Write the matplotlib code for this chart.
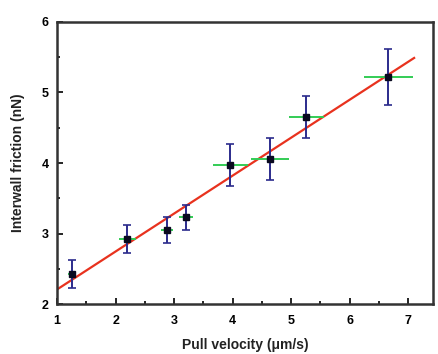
import numpy as np
import matplotlib.pyplot as plt
from matplotlib.ticker import MultipleLocator

# pull velocity (um/s) and interwall friction (nN)
velocity = [1.26, 2.20, 2.88, 3.20, 3.96, 4.64, 5.26, 6.66]
friction = [2.43, 2.92, 3.05, 3.23, 3.97, 4.06, 4.65, 5.22]
vel_err = [0.07, 0.15, 0.10, 0.12, 0.30, 0.32, 0.30, 0.42]
fric_err = [0.20, 0.20, 0.18, 0.18, 0.30, 0.30, 0.30, 0.40]

plt.rcParams['font.family'] = ['Liberation Sans', 'DejaVu Sans']

fig = plt.figure(figsize=(4.39, 3.54), dpi=100)
ax = fig.add_axes([0.130, 0.141, 0.856, 0.797])

# linear fit
k, b = np.polyfit(velocity, friction, 1)
xf = np.array([1.0, 7.1])
ax.plot(xf, k * xf + b, color='#e8321e', lw=1.6, zorder=2)

ax.errorbar(velocity, friction, xerr=vel_err, fmt='none', ecolor='#33cc55',
            elinewidth=1.4, capsize=0, zorder=3)
ax.errorbar(velocity, friction, yerr=fric_err, fmt='none', ecolor='#2b2b8c',
            elinewidth=1.4, capsize=3, capthick=1.2, zorder=4)
ax.plot(velocity, friction, 's', color='#0a0a20', ms=5, zorder=5)

ax.set_xlim(1, 7.42)
ax.set_ylim(2, 6)
ax.xaxis.set_major_locator(MultipleLocator(1))
ax.xaxis.set_minor_locator(MultipleLocator(0.5))
ax.yaxis.set_major_locator(MultipleLocator(1))
ax.yaxis.set_minor_locator(MultipleLocator(0.5))
ax.tick_params(which='both', direction='in', width=1.2, labelsize=9)
ax.tick_params(which='major', length=4)
ax.tick_params(which='minor', length=2.5)
ax.tick_params(axis='x', pad=8)
ax.tick_params(axis='y', pad=6)
for lab in ax.get_xticklabels() + ax.get_yticklabels():
    lab.set_fontweight('bold')
for sp in ax.spines.values():
    sp.set_linewidth(1.8)
    sp.set_color('#333333')

ax.set_xlabel('Pull velocity (\u03bcm/s)', fontsize=10, fontweight='bold',
              color='#222222', labelpad=8)
ax.set_ylabel('Interwall friction (nN)', fontsize=10, fontweight='bold',
              color='#222222', labelpad=12)

fig.savefig('out.png', dpi=100)
